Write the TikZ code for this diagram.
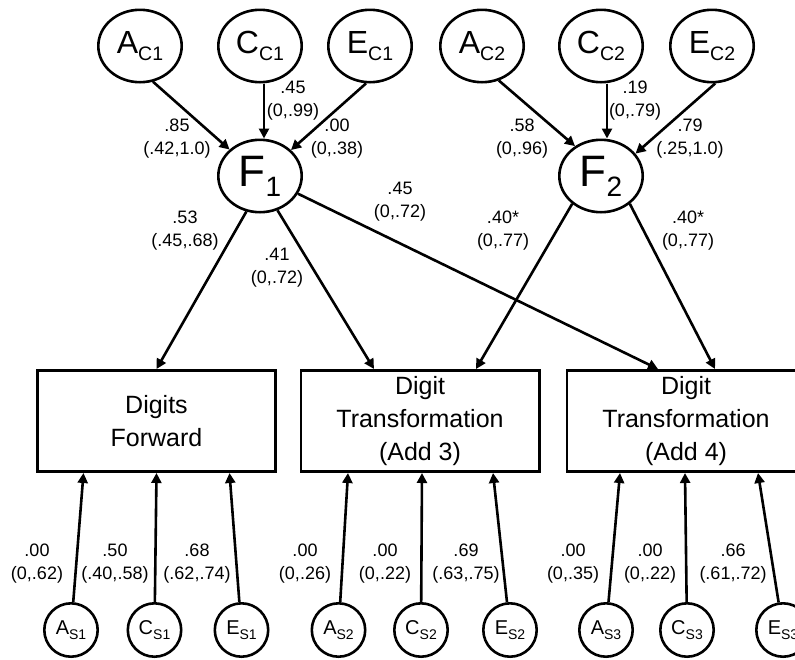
\documentclass[tikz,border=0pt]{standalone}
\usepackage{fontspec}
\setmainfont{Liberation Sans}
\usetikzlibrary{shapes.geometric,arrows.meta}

% variable names with a lowered subscript, in three sizes
\newcommand\topvar[2]{{\fontsize{16}{16}\selectfont #1}\raisebox{-3.5pt}{\fontsize{9.75}{9.75}\selectfont #2}}
\newcommand\facvar[2]{{\fontsize{22}{22}\selectfont #1}\raisebox{-5pt}{\fontsize{14}{14}\selectfont #2}}
\newcommand\botvar[2]{{\fontsize{10}{10}\selectfont #1}\raisebox{-2.5pt}{\fontsize{7}{7}\selectfont #2}}

\begin{document}
\begin{tikzpicture}[x=0.5pt,y=-0.5pt,line width=1.3pt,
  lat/.style={ellipse,draw,minimum width=41.7pt,minimum height=36.2pt,inner sep=0pt},
  fac/.style={ellipse,draw,minimum width=41.7pt,minimum height=36.2pt,inner sep=0pt},
  uniq/.style={circle,draw,minimum size=26.7pt,inner sep=0pt},
  meas/.style={rectangle,draw,minimum width=119.2pt,minimum height=50.7pt,inner sep=1pt,
    align=center,font=\fontsize{12.5}{16.3}\selectfont},
  est/.style={align=center,inner sep=0pt,font=\fontsize{9}{11.5}\selectfont},
  arr/.style={-{Triangle[length=5pt,width=5pt]}}]

\useasboundingbox (0,0) rectangle (795,659);
\clip (0,0) rectangle (795,659);

% common-factor ACE components
\node[lat] (ac1) at (140,46) {\topvar{A}{C1}};
\node[lat] (cc1) at (260,46) {\topvar{C}{C1}};
\node[lat] (ec1) at (370,46) {\topvar{E}{C1}};
\node[lat] (ac2) at (482,46) {\topvar{A}{C2}};
\node[lat] (cc2) at (601,46) {\topvar{C}{C2}};
\node[lat] (ec2) at (712,46) {\topvar{E}{C2}};

% latent factors
\node[fac] (f1) at (260,176) {\facvar{F}{1}};
\node[fac] (f2) at (601,176) {\facvar{F}{2}};

% measured tasks
\node[meas] (df)  at (156.5,421) {Digits\\Forward};
\node[meas] (dt3) at (420,421) {Digit\\Transformation\\(Add 3)};
\node[meas] (dt4) at (686,421) {Digit\\Transformation\\(Add 4)};

% specific ACE components
\node[uniq] (as1) at (71,630)  {\botvar{A}{S1}};
\node[uniq] (cs1) at (154.5,630) {\botvar{C}{S1}};
\node[uniq] (es1) at (241.5,630) {\botvar{E}{S1}};
\node[uniq] (as2) at (338.5,630) {\botvar{A}{S2}};
\node[uniq] (cs2) at (421,630) {\botvar{C}{S2}};
\node[uniq] (es2) at (510,630) {\botvar{E}{S2}};
\node[uniq] (as3) at (606,630) {\botvar{A}{S3}};
\node[uniq] (cs3) at (687,630) {\botvar{C}{S3}};
\node[uniq] (es3) at (783,630) {\botvar{E}{S3}};

% paths into the factors
\draw[arr] (ac1.-70) -- (f1.139);
\draw[arr] ([xshift=2pt]cc1.south) -- ([xshift=2pt]f1.north);
\draw[arr] (ec1.-96) -- (f1.40);
\draw[arr] (ac2.-64) -- (f2.131);
\draw[arr] ([xshift=3pt]cc2.south) -- ([xshift=3pt]f2.north);
\draw[arr] (ec2.-85) -- (f2.33);

% factor loadings
\draw[arr] (f1.-111) -- (df.north);
\draw[arr] (f1.-63) -- ([xshift=-23pt]dt3.north);
\draw[arr] (f1.-25) -- ([xshift=-14pt]dt4.north);
\draw[arr] (f2.-136) -- ([xshift=28pt]dt3.north);
\draw[arr] (f2.-44) -- ([xshift=14.5pt]dt4.north);

% specific paths
\draw[arr] (as1) -- ([xshift=-36.5pt]df.south);
\draw[arr] (cs1) -- (df.south);
\draw[arr] (es1) -- ([xshift=36.5pt]df.south);
\draw[arr] (as2) -- ([xshift=-36pt]dt3.south);
\draw[arr] (cs2) -- ([xshift=1pt]dt3.south);
\draw[arr] (es2) -- ([xshift=36.5pt]dt3.south);
\draw[arr] (as3) -- ([xshift=-33pt]dt4.south);
\draw[arr] (cs3) -- ([xshift=-0.5pt]dt4.south);
\draw[arr] (es3) -- ([xshift=36pt]dt4.south);

% estimates with confidence intervals
\node[est] at (177,138.5) {.85\\(.42,1.0)};
\node[est] at (293,100.5) {.45\\(0,.99)};
\node[est] at (337,138.5) {.00\\(0,.38)};
\node[est] at (522,138.5) {.58\\(0,.96)};
\node[est] at (635,100.5) {.19\\(0,.79)};
\node[est] at (690,138.5) {.79\\(.25,1.0)};
\node[est] at (400,202) {.45\\(0,.72)};
\node[est] at (185,230.5) {.53\\(.45,.68)};
\node[est] at (277,268) {.41\\(0,.72)};
\node[est] at (503,230.5) {.40*\\(0,.77)};
\node[est] at (688,230.5) {.40*\\(0,.77)};

\node[est] at (37,564)  {.00\\(0,.62)};
\node[est] at (115,564) {.50\\(.40,.58)};
\node[est] at (197,564) {.68\\(.62,.74)};
\node[est] at (305,564) {.00\\(0,.26)};
\node[est] at (385,564) {.00\\(0,.22)};
\node[est] at (466,564) {.69\\(.63,.75)};
\node[est] at (573,564) {.00\\(0,.35)};
\node[est] at (650,564) {.00\\(0,.22)};
\node[est] at (733,564) {.66\\(.61,.72)};
\end{tikzpicture}
\end{document}
